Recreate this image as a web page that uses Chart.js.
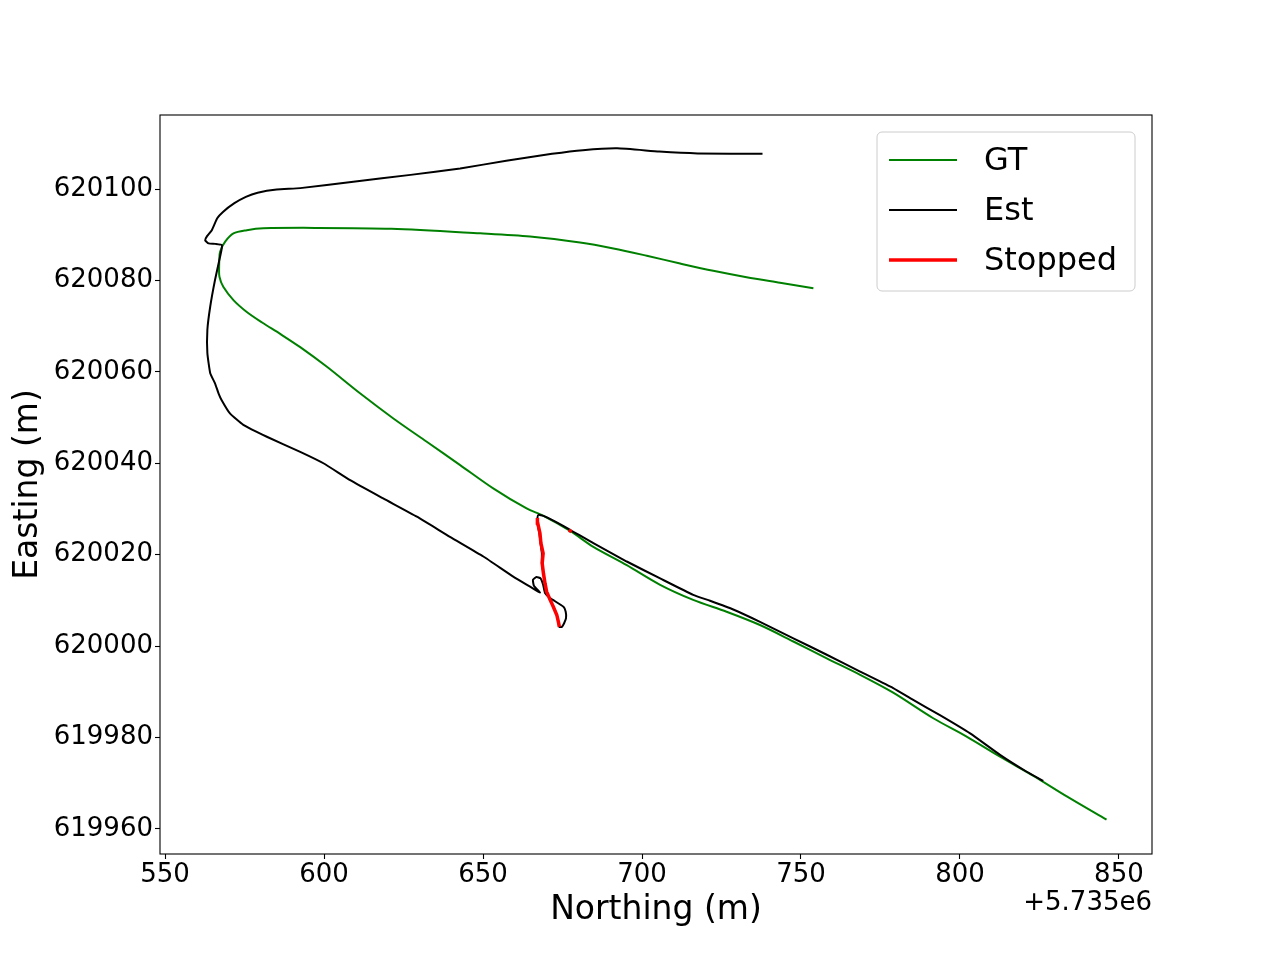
<!DOCTYPE html>
<html>
<head>
<meta charset="utf-8">
<script src="https://cdn.jsdelivr.net/npm/chart.js@4.4.1/dist/chart.umd.min.js"></script>
<style>
  html, body { margin: 0; padding: 0; background: #fff; }
  canvas { display: block; }
</style>
</head>
<body>
<canvas id="myChart" width="1280" height="960"></canvas>
<script>
// northing values are shown relative to this offset (matplotlib style)
const xOffset = 5.735e6;
const xTicks = [550, 600, 650, 700, 750, 800, 850];
const yTicks = [619960, 619980, 620000, 620020, 620040, 620060, 620080, 620100];

const gtNorthing = [753.9, 743.4, 732.9, 722.4, 712.0, 701.5, 691.0, 680.5, 664.8, 649.1, 621.2, 597.1, 580.9, 575.7, 571.5, 568.9, 567.3, 567.0, 567.1, 568.3, 571.5, 575.7, 580.5, 586.2, 592.5, 600.9, 611.3, 621.8, 632.3, 642.8, 653.2, 663.7, 669.0, 677.4, 684.7, 695.2, 705.7, 716.1, 726.6, 737.1, 747.6, 758.1, 768.6, 779.0, 791.6, 802.1, 812.6, 823.1, 833.6, 846.1];
const gtEasting = [620078.3, 620079.5, 620080.7, 620082.1, 620083.7, 620085.4, 620087.0, 620088.3, 620089.6, 620090.3, 620091.3, 620091.5, 620091.4, 620091.0, 620090.3, 620088.5, 620086.3, 620083.0, 620080.8, 620078.6, 620075.7, 620073.1, 620070.8, 620068.3, 620065.4, 620061.1, 620055.3, 620049.8, 620044.7, 620039.6, 620034.5, 620030.1, 620028.5, 620025.2, 620021.7, 620017.7, 620013.4, 620010.1, 620007.5, 620004.6, 620001.0, 619997.3, 619993.7, 619989.8, 619984.2, 619980.2, 619975.8, 619971.6, 619967.1, 619962.0];

const estNorthing = [737.9, 717.5, 705.4, 692.2, 681.4, 671.7, 657.3, 642.8, 627.2, 609.2, 592.5, 585.1, 579.1, 575.4, 571.8, 568.2, 566.4, 564.7, 563.2, 562.6, 563.7, 565.8, 567.9, 567.3, 565.7, 564.2, 563.3, 563.3, 564.2, 565.7, 566.8, 567.8, 570.4, 574.6, 582.0, 592.5, 599.8, 608.2, 618.6, 629.2, 639.6, 650.1, 659.5, 664.8, 667.9, 666.0, 665.7, 666.8, 668.1, 668.9, 669.5, 671.1, 675.3, 676.0, 676.1, 675.5, 674.8,
  674.0, 673.7, 673.2, 672.1, 671.1, 670.0, 669.5, 669.0, 668.5, 668.5, 668.1, 667.7, 667.1, 667.1,
  667.4, 669.0, 674.2, 684.7, 695.2, 705.7, 716.1, 721.4, 728.7, 737.1, 747.6, 758.1, 768.6, 779.0, 785.3, 793.7, 803.2, 812.6, 821.0, 826.2];
const estEasting = [620107.7, 620107.8, 620108.2, 620108.9, 620108.5, 620107.7, 620106.2, 620104.5, 620103.1, 620101.6, 620100.2, 620099.9, 620099.2, 620098.3, 620096.9, 620095.0, 620093.6, 620091.0, 620089.7, 620088.8, 620088.1, 620088.0, 620087.7, 620085.2, 620080.1, 620074.3, 620069.2, 620064.1, 620059.7, 620057.5, 620055.3, 620053.8, 620050.9, 620048.4, 620045.8, 620042.5, 620040.0, 620036.3, 620032.3, 620028.3, 620023.9, 620019.6, 620015.2, 620013.0, 620011.7, 620013.2, 620014.5, 620015.1, 620014.8, 620013.4, 620011.6, 620010.5, 620008.6, 620007.5, 620006.1, 620005.0, 620004.2,
  620004.2, 620005.3, 620006.8, 620008.6, 620010.1, 620011.9, 620013.7, 620015.9, 620018.1, 620020.3, 620022.5, 620024.7, 620026.9, 620028.0,
  620028.7, 620028.5, 620026.7, 620022.5, 620018.5, 620014.8, 620011.2, 620009.9, 620008.0, 620005.3, 620001.7, 619998.1, 619994.4, 619990.8, 619988.2, 619984.9, 619980.9, 619976.2, 619972.5, 619970.5];

const stopNorthing = [674.0, 673.7, 673.2, 672.1, 671.1, 670.0, 669.5, 669.0, 668.6, 668.9, 668.2, 667.9, 667.2, 667.1, null, 677.0, 677.8];
const stopEasting = [620004.2, 620005.3, 620006.8, 620008.6, 620010.1, 620011.9, 620013.7, 620015.9, 620018.1, 620020.3, 620022.5, 620024.7, 620026.9, 620028.0, null, 620025.4, 620025.0];

function toPoints(xs, ys) {
  return xs.map((x, i) => ({ x: x === null ? null : xOffset + x, y: ys[i] }));
}

const FONT = "'DejaVu Sans', sans-serif";

// box round the axes + offset text + legend drawn matplotlib-like
const framePlugin = {
  id: "frame",
  afterDraw(chart) {
    const { ctx, chartArea: a } = chart;
    ctx.save();
    ctx.strokeStyle = "#000";
    ctx.lineWidth = 1.1;
    ctx.strokeRect(a.left, a.top, a.right - a.left, a.bottom - a.top);

    ctx.fillStyle = "#000";
    ctx.font = "26px " + FONT;
    ctx.textAlign = "right";
    ctx.textBaseline = "middle";
    ctx.fillText("+5.735e6", a.right, 903);

    // legend
    const lx = a.right - 275, ly = a.top + 17, lw = 258, lh = 159;
    ctx.beginPath();
    ctx.roundRect(lx, ly, lw, lh, 5);
    ctx.fillStyle = "rgba(255,255,255,0.8)";
    ctx.fill();
    ctx.strokeStyle = "#cccccc";
    ctx.lineWidth = 1;
    ctx.stroke();
    ctx.font = "32px " + FONT;
    ctx.textAlign = "left";
    chart.data.datasets.forEach((ds, i) => {
      const y = ly + 28 + i * 50;
      ctx.beginPath();
      ctx.moveTo(lx + 12, y);
      ctx.lineTo(lx + 80, y);
      ctx.strokeStyle = ds.borderColor;
      ctx.lineWidth = ds.borderWidth;
      ctx.stroke();
      ctx.fillStyle = "#000";
      ctx.fillText(ds.label, lx + 107, y + 2);
    });
    ctx.restore();
  }
};

const ctx = document.getElementById("myChart").getContext("2d");

const myChart = new Chart(ctx, {
  type: "scatter",
  data: {
    datasets: [
      {
        label: "GT",
        data: toPoints(gtNorthing, gtEasting),
        showLine: true,
        borderColor: "#008000",
        backgroundColor: "#008000",
        borderWidth: 2,
        pointRadius: 0,
        tension: 0.3,
        order: 3,
      },
      {
        label: "Est",
        data: toPoints(estNorthing, estEasting),
        showLine: true,
        borderColor: "#000000",
        backgroundColor: "#000000",
        borderWidth: 2,
        pointRadius: 0,
        tension: 0.15,
        order: 2,
      },
      {
        label: "Stopped",
        data: toPoints(stopNorthing, stopEasting),
        showLine: true,
        spanGaps: false,
        borderColor: "#ff0000",
        backgroundColor: "#ff0000",
        borderWidth: 3.5,
        pointRadius: 0,
        tension: 0,
        order: 1,
      },
    ],
  },
  options: {
    responsive: false,
    devicePixelRatio: 1,
    animation: false,
    layout: { padding: { top: 115, right: 128, left: 0, bottom: 0 } },
    scales: {
      x: {
        type: "linear",
        min: xOffset + 548.4,
        max: xOffset + 860.4,
        afterFit: (s) => { s.height = 106; },
        afterBuildTicks: (s) => { s.ticks = xTicks.map((v) => ({ value: xOffset + v })); },
        grid: { drawOnChartArea: false, drawTicks: true, tickLength: 5, tickColor: "#000", tickWidth: 1.1 },
        border: { display: false },
        ticks: {
          autoSkip: false,
          maxRotation: 0,
          padding: 1,
          color: "#000",
          font: { family: FONT, size: 26 },
          callback: (v) => String(Math.round(v - xOffset)),
        },
        title: {
          display: true,
          text: "Northing (m)",
          color: "#000",
          font: { family: FONT, size: 33 },
          padding: { top: 0, bottom: 30 },
        },
      },
      y: {
        type: "linear",
        min: 619954.5,
        max: 620116.2,
        afterFit: (s) => { s.width = 160; },
        afterBuildTicks: (s) => { s.ticks = yTicks.map((v) => ({ value: v })); },
        grid: { drawOnChartArea: false, drawTicks: true, tickLength: 5, tickColor: "#000", tickWidth: 1.1 },
        border: { display: false },
        ticks: {
          autoSkip: false,
          padding: 2,
          color: "#000",
          font: { family: FONT, size: 26 },
          callback: (v) => String(v),
        },
        title: {
          display: true,
          text: "Easting (m)",
          color: "#000",
          font: { family: FONT, size: 33 },
          padding: { top: 9, bottom: 0 },
        },
      },
    },
    plugins: {
      legend: { display: false },
      tooltip: { enabled: false },
    },
  },
  plugins: [framePlugin],
});
</script>
</body>
</html>
